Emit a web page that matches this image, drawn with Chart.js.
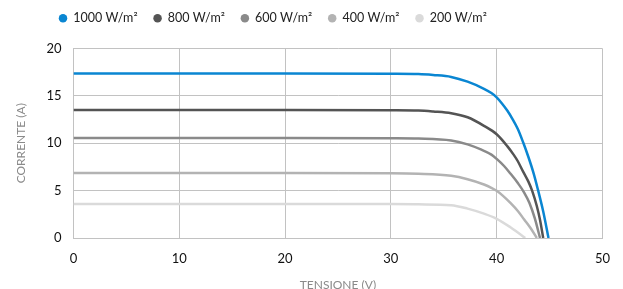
<!DOCTYPE html>
<html>
<head>
<meta charset="utf-8">
<script src="https://cdn.jsdelivr.net/npm/chart.js@4"></script>
<style>
    html, body { margin: 0; padding: 0; background: #fff; }
    #wrap { width: 623px; height: 289px; }
</style>
</head>
<body>
<div id="wrap"><canvas id="ivChart"></canvas></div>
<script>
// Curve I-V per irraggiamento
const seriesLabels = ['1000 W/m²', '800 W/m²', '600 W/m²', '400 W/m²', '200 W/m²'];
const seriesColors = ['#0a86d2', '#545454', '#8a8a8a', '#b3b3b3', '#dadada'];

const v1000 = [0, 10, 20, 30, 32.6, 34, 35.7, 37.25, 38.8, 39.5, 40, 40.5, 41, 41.5, 42, 42.5, 43, 43.5, 43.9, 44.4, 44.9];
const i1000 = [17.35, 17.35, 17.35, 17.33, 17.3, 17.2, 17.0, 16.5, 15.75, 15.3, 14.85, 14.2, 13.45, 12.55, 11.5, 10.1, 8.55, 6.8, 5.1, 2.8, 0];

const v800 = [0, 10, 20, 30, 32.6, 34, 35.7, 37.25, 38.8, 40, 41, 41.6, 42, 42.5, 43, 43.35, 43.8, 44.1, 44.4];
const i800 = [13.5, 13.5, 13.5, 13.48, 13.45, 13.35, 13.17, 12.74, 11.84, 10.95, 9.7, 8.8, 8.1, 7.0, 5.95, 5.0, 3.35, 1.9, 0];

const v600 = [0, 10, 20, 30, 32.6, 35.7, 37.25, 38.5, 39.5, 40, 40.7, 41.3, 42, 42.6, 43.1, 43.6, 44.1];
const i600 = [10.55, 10.55, 10.55, 10.53, 10.5, 10.3, 9.88, 9.35, 8.8, 8.35, 7.6, 6.8, 5.8, 4.8, 3.7, 2.1, 0];

const v400 = [0, 10, 20, 30, 32.6, 35.7, 37.25, 38.8, 39.5, 40, 40.6, 41.3, 42, 42.6, 43.2, 43.8];
const i400 = [6.85, 6.85, 6.85, 6.83, 6.78, 6.56, 6.2, 5.65, 5.3, 4.98, 4.45, 3.7, 2.85, 1.95, 1.05, 0];

const v200 = [0, 10, 20, 30, 32.6, 35.7, 37.25, 38.8, 40, 41.3, 42, 42.7];
const i200 = [3.6, 3.6, 3.6, 3.58, 3.55, 3.46, 3.1, 2.57, 2.03, 1.14, 0.58, 0];

const voltages = [v1000, v800, v600, v400, v200];
const currents = [i1000, i800, i600, i400, i200];

const fontFamily = 'Lato, "Open Sans", sans-serif';

const datasets = seriesLabels.map((label, k) => ({
    label: label,
    data: voltages[k].map((v, j) => ({ x: v, y: currents[k][j] })),
    borderColor: seriesColors[k],
    backgroundColor: seriesColors[k],
    borderWidth: 2.5,
    pointRadius: 0,
    cubicInterpolationMode: 'monotone',
    fill: false
}));

// sposta la legenda e lascia spazio sotto di essa
const legendTweak = {
    id: 'legendTweak',
    beforeLayout(chart) {
        const lg = chart.legend;
        if (lg && !lg._patched) {
            const fit = lg.fit;
            lg.fit = function() {
                fit.call(this);
                this.height += 10;
            };
            lg._patched = true;
        }
    },
    afterLayout(chart) {
        const lg = chart.legend;
        lg.left = 43;
        lg.top = -4;
    }
};

new Chart(document.getElementById('ivChart').getContext('2d'), {
    type: 'line',
    data: { datasets: datasets },
    options: {
        responsive: true,
        maintainAspectRatio: false,
        animation: false,
        layout: { padding: { left: 10, right: 15, top: 0, bottom: 0 } },
        plugins: {
            legend: {
                position: 'top',
                align: 'start',
                labels: {
                    usePointStyle: true,
                    pointStyle: 'circle',
                    boxWidth: 8,
                    boxHeight: 6,
                    padding: 16,
                    color: '#222',
                    font: { family: fontFamily, size: 12.5 },
                    generateLabels: (chart) => Chart.defaults.plugins.legend.labels.generateLabels(chart)
                        .map(item => Object.assign(item, { lineWidth: 0 }))
                }
            },
            tooltip: { enabled: false }
        },
        scales: {
            x: {
                type: 'linear',
                min: 0,
                max: 50,
                ticks: { stepSize: 10, color: '#111', padding: 13, font: { family: fontFamily, size: 13 } },
                grid: { color: '#c2c2c2', drawTicks: false },
                border: { color: '#c2c2c2' },
                title: { display: true, text: 'TENSIONE (V)', color: '#8a8a8a', padding: { top: 8, bottom: -3 }, font: { family: fontFamily, size: 12 } },
                afterFit: (scale) => { scale.height -= 10; }
            },
            y: {
                min: 0,
                max: 20,
                ticks: { stepSize: 5, color: '#111', padding: 12, font: { family: fontFamily, size: 13 } },
                grid: { color: '#c2c2c2', drawTicks: false },
                border: { color: '#c2c2c2' },
                title: { display: true, text: 'CORRENTE (A)', color: '#8a8a8a', padding: { top: 4, bottom: 6 }, font: { family: fontFamily, size: 12 } }
            }
        }
    },
    plugins: [legendTweak]
});
</script>
</body>
</html>
